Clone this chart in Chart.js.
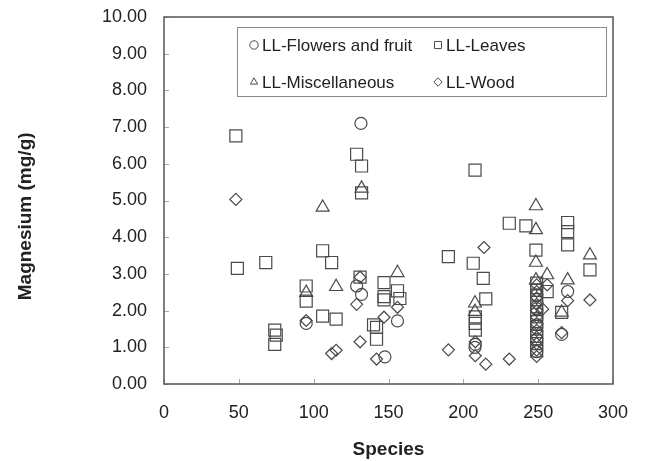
<!DOCTYPE html>
<html>
<head>
<meta charset="utf-8">
<script src="https://cdn.jsdelivr.net/npm/chart.js@4.4.1/dist/chart.umd.min.js"></script>
<style>
  html, body { margin: 0; padding: 0; background: #fff; }
  #wrap { width: 645px; height: 461px; }
</style>
</head>
<body>
<div id="wrap"><canvas id="mgChart" width="645" height="461"></canvas></div>
<script>
// series names
const seriesNames = ['LL-Flowers and fruit', 'LL-Leaves', 'LL-Miscellaneous', 'LL-Wood'];
const seriesShapes = ['circle', 'rect', 'triangle', 'rectRot'];

// LL-Flowers and fruit
const flowersX = [95, 131.6, 128.7, 132, 156, 147.6, 207.8, 208, 249, 249, 249, 249, 249, 269.7, 265.7];
const flowersY = [1.65, 7.10, 2.67, 2.44, 1.72, 0.74, 1.00, 1.08, 2.42, 2.05, 1.62, 1.22, 0.88, 2.52, 1.35];

// LL-Leaves
const leavesX = [48, 49, 68, 74, 75, 74, 95, 95, 106, 106, 112, 115, 128.7, 132, 132, 131, 147, 147, 147, 156, 157.6, 140, 142, 142,
  207.8, 190, 206.6, 213.3, 215, 208, 208, 208, 230.7, 241.8, 248.5,
  249, 249, 249, 249, 249, 249, 249, 249, 249, 249,
  256, 269.7, 269.7, 269.7, 265.7, 284.6];
const leavesY = [6.76, 3.15, 3.31, 1.47, 1.33, 1.08, 2.67, 2.26, 3.63, 1.85, 3.31, 1.77, 6.26, 5.94, 5.21, 2.91, 2.76, 2.38, 2.29, 2.54, 2.33, 1.61, 1.54, 1.22,
  5.83, 3.47, 3.29, 2.88, 2.32, 1.83, 1.65, 1.47, 4.38, 4.31, 3.65,
  2.75, 2.55, 2.30, 2.10, 1.90, 1.70, 1.50, 1.30, 1.10, 0.90,
  2.52, 4.40, 4.15, 3.79, 1.95, 3.11];

// LL-Miscellaneous
const miscX = [95, 106, 115, 132, 156, 207.8, 207.8, 248.5, 248.5, 248.5, 248.5, 256, 269.7, 284.6, 265.7];
const miscY = [2.49, 4.81, 2.65, 5.33, 3.03, 2.20, 1.97, 4.85, 4.20, 3.31, 2.83, 2.97, 2.83, 3.51, 1.95];

// LL-Wood
const woodX = [48, 95, 112, 115, 131, 128.7, 131, 156, 147, 142, 213.8, 190, 208, 208, 215, 230.7, 256, 253, 269.7, 284.6, 265.7,
  249, 249, 249, 249, 249, 249, 249, 249, 249, 249, 249, 249];
const woodY = [5.03, 1.73, 0.83, 0.92, 2.91, 2.17, 1.15, 2.09, 1.82, 0.68, 3.72, 0.93, 1.15, 0.77, 0.54, 0.68, 2.70, 2.04, 2.27, 2.29, 1.40,
  2.70, 2.52, 2.35, 2.17, 2.00, 1.82, 1.64, 1.46, 1.28, 1.10, 0.92, 0.75];

const xTicks = [0, 50, 100, 150, 200, 250, 300];
const yTicks = [0, 1, 2, 3, 4, 5, 6, 7, 8, 9, 10];

const allX = [flowersX, leavesX, miscX, woodX];
const allY = [flowersY, leavesY, miscY, woodY];
const radii = [6, 8.5, 7.5, 6];

const markColor = '#4a4a4a';
const fontFam = '"Liberation Sans", Arial, sans-serif';

// frame + inner tick marks
const framePlugin = {
  id: 'frame',
  afterDraw(chart) {
    const {ctx, chartArea: a, scales} = chart;
    ctx.save();
    ctx.strokeStyle = '#aaa';
    ctx.lineWidth = 1;
    xTicks.forEach(v => {
      const px = Math.round(scales.x.getPixelForValue(v)) + 0.5;
      ctx.beginPath(); ctx.moveTo(px, a.bottom); ctx.lineTo(px, a.bottom - 5); ctx.stroke();
    });
    yTicks.forEach(v => {
      const py = Math.round(scales.y.getPixelForValue(v)) + 0.5;
      ctx.beginPath(); ctx.moveTo(a.left, py); ctx.lineTo(a.left + 5, py); ctx.stroke();
    });
    ctx.strokeStyle = '#555';
    ctx.lineWidth = 1.5;
    ctx.strokeRect(a.left, a.top, a.right - a.left, a.bottom - a.top);
    ctx.restore();
  }
};

// boxed two-column legend inside the plot
const boxLegend = {
  id: 'boxLegend',
  afterDraw(chart) {
    const ctx = chart.ctx;
    ctx.save();
    ctx.strokeStyle = '#888';
    ctx.lineWidth = 1;
    ctx.strokeRect(237.5, 27.5, 369, 69);
    const cols = [254, 438];
    const rows = [45, 82];
    ctx.font = '17px ' + fontFam;
    ctx.textBaseline = 'middle';
    seriesNames.forEach((name, i) => {
      const cx = cols[i % 2];
      const cy = rows[Math.floor(i / 2)];
      ctx.strokeStyle = markColor;
      ctx.fillStyle = 'rgba(0,0,0,0)';
      ctx.lineWidth = 1;
      Chart.helpers.drawPoint(ctx, {pointStyle: seriesShapes[i], radius: i === 1 ? 5 : 4.2, borderWidth: 1}, cx, cy);
      ctx.fillStyle = '#222';
      ctx.fillText(name, cx + 8, cy + 1);
    });
    ctx.restore();
  }
};

const datasets = seriesNames.map((name, i) => ({
  label: name,
  data: allX[i].map((x, j) => ({x: x, y: allY[i][j]})),
  pointStyle: seriesShapes[i],
  pointRadius: radii[i],
  pointHoverRadius: radii[i],
  borderColor: markColor,
  backgroundColor: 'rgba(0,0,0,0)',
  borderWidth: 1.2
}));

const ctx = document.getElementById('mgChart').getContext('2d');
new Chart(ctx, {
  type: 'scatter',
  data: { datasets: datasets },
  options: {
    responsive: false,
    animation: false,
    layout: { padding: { top: 17, right: 32, left: 0, bottom: 0 } },
    plugins: {
      legend: { display: false },
      tooltip: { enabled: false }
    },
    scales: {
      x: {
        type: 'linear',
        min: 0, max: 300,
        afterBuildTicks: s => { s.ticks = xTicks.map(v => ({value: v})); },
        afterFit: s => { s.height = 77; s.paddingLeft = 0; s.paddingRight = 0; },
        grid: { display: false, drawTicks: false },
        border: { display: false },
        ticks: { color: '#222', font: { family: fontFam, size: 18 }, padding: 18, maxRotation: 0 },
        title: { display: true, text: 'Species', color: '#222', font: { family: fontFam, size: 19, weight: 'bold' }, padding: { top: 6, bottom: 0 } }
      },
      y: {
        type: 'linear',
        min: 0, max: 10,
        afterBuildTicks: s => { s.ticks = yTicks.map(v => ({value: v})); },
        afterFit: s => { s.width = 164; s.paddingTop = 0; s.paddingBottom = 0; },
        grid: { display: false, drawTicks: false },
        border: { display: false },
        ticks: { color: '#222', font: { family: fontFam, size: 18 }, padding: 17, callback: v => v.toFixed(2) },
        // trailing spaces nudge the rotated title down a little, as in the original
        title: { display: true, text: 'Magnesium (mg/g)      ', color: '#222', font: { family: fontFam, size: 19, weight: 'bold' }, padding: { top: 14, bottom: 0 } }
      }
    }
  },
  plugins: [framePlugin, boxLegend]
});
</script>
</body>
</html>
